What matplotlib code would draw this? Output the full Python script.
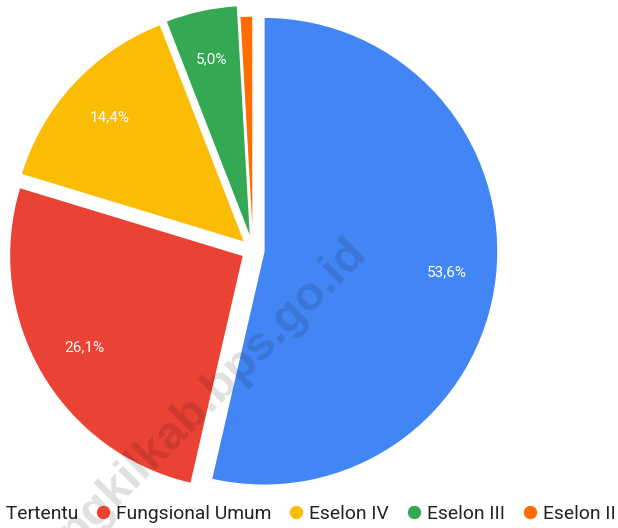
import matplotlib
matplotlib.use("Agg")
import matplotlib.pyplot as plt
from matplotlib.lines import Line2D

categories = ["Fungsional Tertentu", "Fungsional Umum", "Eselon IV", "Eselon III", "Eselon II"]
values = [53.6, 26.1, 14.4, 5.0, 0.9]
colors = ["#4285F4", "#EA4335", "#FBBC04", "#34A853", "#FF6D01"]
watermark = "ngkilkab.bps.go.id"

W, H = 618, 528
fig = plt.figure(figsize=(W / 100, H / 100), dpi=100)
ax = fig.add_axes([0, 0, 1, 1])

cx, cy, R = 253, H - 250, 234
explode = [11 if v > 2 else 0 for v in values]

def fmt(p):
    if p < 2:
        return ""
    return f"{p:.1f}%".replace(".", ",")

wedges, texts, autotexts = ax.pie(
    values, colors=colors, explode=explode, startangle=90, counterclock=False,
    center=(cx, cy), radius=R, autopct=fmt, pctdistance=0.785, frame=True,
    wedgeprops=dict(linewidth=1, edgecolor="white"),
    textprops=dict(color="white", fontsize=11, family="Roboto"),
)
ax.set_xlim(0, W)
ax.set_ylim(0, H)
ax.set_aspect("equal")
ax.axis("off")

ax.text(344, H - 230, watermark, rotation=45, rotation_mode="anchor",
        ha="right", va="top", fontsize=34, fontweight="bold",
        family="Liberation Sans", color="black", alpha=0.12, zorder=10)

handles = [Line2D([], [], linestyle="none", marker="o", markersize=8.6,
                  markerfacecolor=c, markeredgecolor=c) for c in colors]
fig.legend(handles, categories, loc="center right",
           bbox_to_anchor=(616 / W, (H - 514) / H), ncol=5, frameon=False,
           prop=dict(family="Roboto", size=13.9), labelcolor="#222222",
           handletextpad=0.2, columnspacing=0.77, handlelength=1.0,
           borderaxespad=0, borderpad=0)

fig.savefig("out.png", dpi=100)
